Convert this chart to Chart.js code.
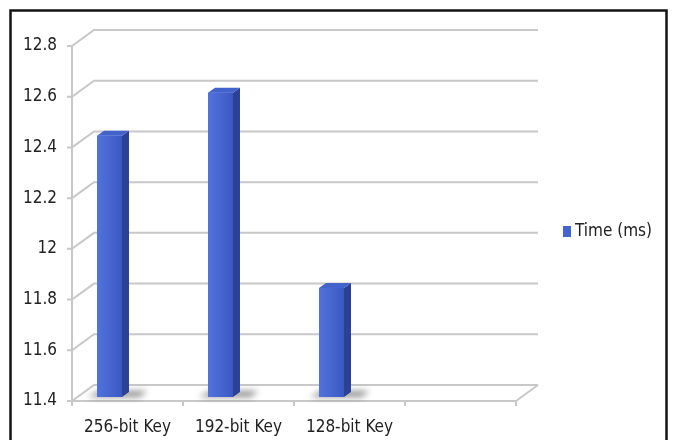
<!DOCTYPE html>
<html>
<head>
<meta charset="utf-8">
<script src="https://cdn.jsdelivr.net/npm/chart.js@4"></script>
<style>
  html, body { margin: 0; padding: 0; background: #fff; }
</style>
</head>
<body>
<canvas id="chart-canvas" width="673" height="440"></canvas>
<script>
/* -------------  KEY SIZE TIMING CHART  ------------- */

const keyLabels = ['256-bit Key', '192-bit Key', '128-bit Key', ''];
const timeValues = [12.43, 12.6, 11.83, null];
const seriesName = 'Time (ms)';
const yMin = 11.4;
const yMax = 12.8;
const yStep = 0.2;

const FONT = '"DejaVu Sans Condensed", "DejaVu Sans", sans-serif';

// depth of the fake 3d box and of the bars
const DEPTH_X = 22, DEPTH_Y = -16;
const BAR_SHIFT_X = -18, BAR_SHIFT_Y = -4;
const SIDE_X = 7, SIDE_Y = -5;

/**
 * Draws the frame, the walls/floor and the 3d faces of the bars.
 */
const perspectivePlugin = {
  id: 'perspective',
  beforeDraw(chart) {
    const { ctx, chartArea: area, scales: { x, y } } = chart;
    ctx.save();
    ctx.strokeStyle = '#141414';
    ctx.lineWidth = 2.5;
    ctx.strokeRect(10.5, 10.5, 656, 460);

    ctx.strokeStyle = '#c8c8c8';
    ctx.lineWidth = 2;
    ctx.beginPath();
    y.ticks.forEach((t) => {
      const py = y.getPixelForValue(t.value);
      ctx.moveTo(area.left - 5, py);
      ctx.lineTo(area.left, py);
      ctx.lineTo(area.left + DEPTH_X, py + DEPTH_Y);
      ctx.lineTo(area.right + DEPTH_X, py + DEPTH_Y);
    });
    ctx.moveTo(area.left, area.top);
    ctx.lineTo(area.left, area.bottom);
    ctx.moveTo(area.left, area.bottom);
    ctx.lineTo(area.right, area.bottom);
    ctx.lineTo(area.right + DEPTH_X, area.bottom + DEPTH_Y);
    for (let i = 0; i <= keyLabels.length; i++) {
      const px = x.getPixelForValue(i - 0.5);
      ctx.moveTo(px, area.bottom);
      ctx.lineTo(px, area.bottom + 5);
    }
    ctx.stroke();
    ctx.restore();
  },
  beforeDatasetsDraw(chart) {
    const ctx = chart.ctx;
    ctx.save();
    ctx.translate(BAR_SHIFT_X, BAR_SHIFT_Y);
    // soft shadow on the floor
    chart.getDatasetMeta(0).data.forEach((bar, i) => {
      if (timeValues[i] == null) return;
      ctx.save();
      ctx.filter = 'blur(3px)';
      ctx.fillStyle = 'rgba(0, 0, 0, 0.45)';
      ctx.beginPath();
      ctx.moveTo(bar.x - 22, bar.base);
      ctx.lineTo(bar.x + 30, bar.base);
      ctx.lineTo(bar.x + 38, bar.base - 6);
      ctx.lineTo(bar.x - 10, bar.base - 6);
      ctx.closePath();
      ctx.fill();
      ctx.restore();
    });
  },
  afterDatasetsDraw(chart) {
    const ctx = chart.ctx;
    chart.getDatasetMeta(0).data.forEach((bar, i) => {
      if (timeValues[i] == null) return;
      const left = bar.x - bar.width / 2;
      const right = bar.x + bar.width / 2;
      const top = bar.y;
      const base = bar.base;

      const front = ctx.createLinearGradient(left, 0, right, 0);
      front.addColorStop(0, '#5273da');
      front.addColorStop(0.5, '#4666d0');
      front.addColorStop(1, '#3b58c0');
      ctx.fillStyle = front;
      ctx.fillRect(left, top, right - left, base - top);

      ctx.fillStyle = '#2b4196';
      ctx.beginPath();
      ctx.moveTo(right, top);
      ctx.lineTo(right + SIDE_X, top + SIDE_Y);
      ctx.lineTo(right + SIDE_X, base + SIDE_Y);
      ctx.lineTo(right, base);
      ctx.closePath();
      ctx.fill();

      ctx.fillStyle = '#4262cc';
      ctx.beginPath();
      ctx.moveTo(left, top);
      ctx.lineTo(left + SIDE_X, top + SIDE_Y);
      ctx.lineTo(right + SIDE_X, top + SIDE_Y);
      ctx.lineTo(right, top);
      ctx.closePath();
      ctx.fill();
    });
    ctx.restore();
  },
  afterDraw(chart) {
    const ctx = chart.ctx;
    const ds = chart.data.datasets[0];
    ctx.save();
    ctx.fillStyle = '#4464d0';
    ctx.fillRect(563, 226, 8, 11);
    ctx.fillStyle = '#222';
    ctx.font = '17px ' + FONT;
    ctx.textBaseline = 'middle';
    ctx.fillText(ds.label, 575, 232);
    ctx.restore();
  },
};

function setChartConfig() {
  return {
    type: 'bar',
    data: {
      labels: keyLabels,
      datasets: [
        {
          label: seriesName,
          data: timeValues,
          base: yMin,
          backgroundColor: '#4464d0',
          borderWidth: 0,
          categoryPercentage: 1,
          barPercentage: 0.225,
        },
      ],
    },
    options: {
      responsive: false,
      animation: false,
      layout: { padding: { top: 46, right: 157, bottom: 0, left: 0 } },
      plugins: { legend: { display: false }, tooltip: { enabled: false } },
      scales: {
        x: {
          grid: { display: false, drawTicks: false },
          border: { display: false },
          ticks: { color: '#222', padding: 16, font: { family: FONT, size: 17 } },
          afterFit: (scale) => { scale.height = 39; },
        },
        y: {
          min: yMin,
          max: yMax,
          grid: { display: false, drawTicks: false },
          border: { display: false },
          ticks: {
            stepSize: yStep,
            padding: 15,
            color: '#222',
            font: { family: FONT, size: 17 },
            callback: (v) => +v.toFixed(1),
          },
          afterFit: (scale) => { scale.width = 72; },
        },
      },
    },
    plugins: [perspectivePlugin],
  };
}

new Chart(document.getElementById('chart-canvas'), setChartConfig());
</script>
</body>
</html>
